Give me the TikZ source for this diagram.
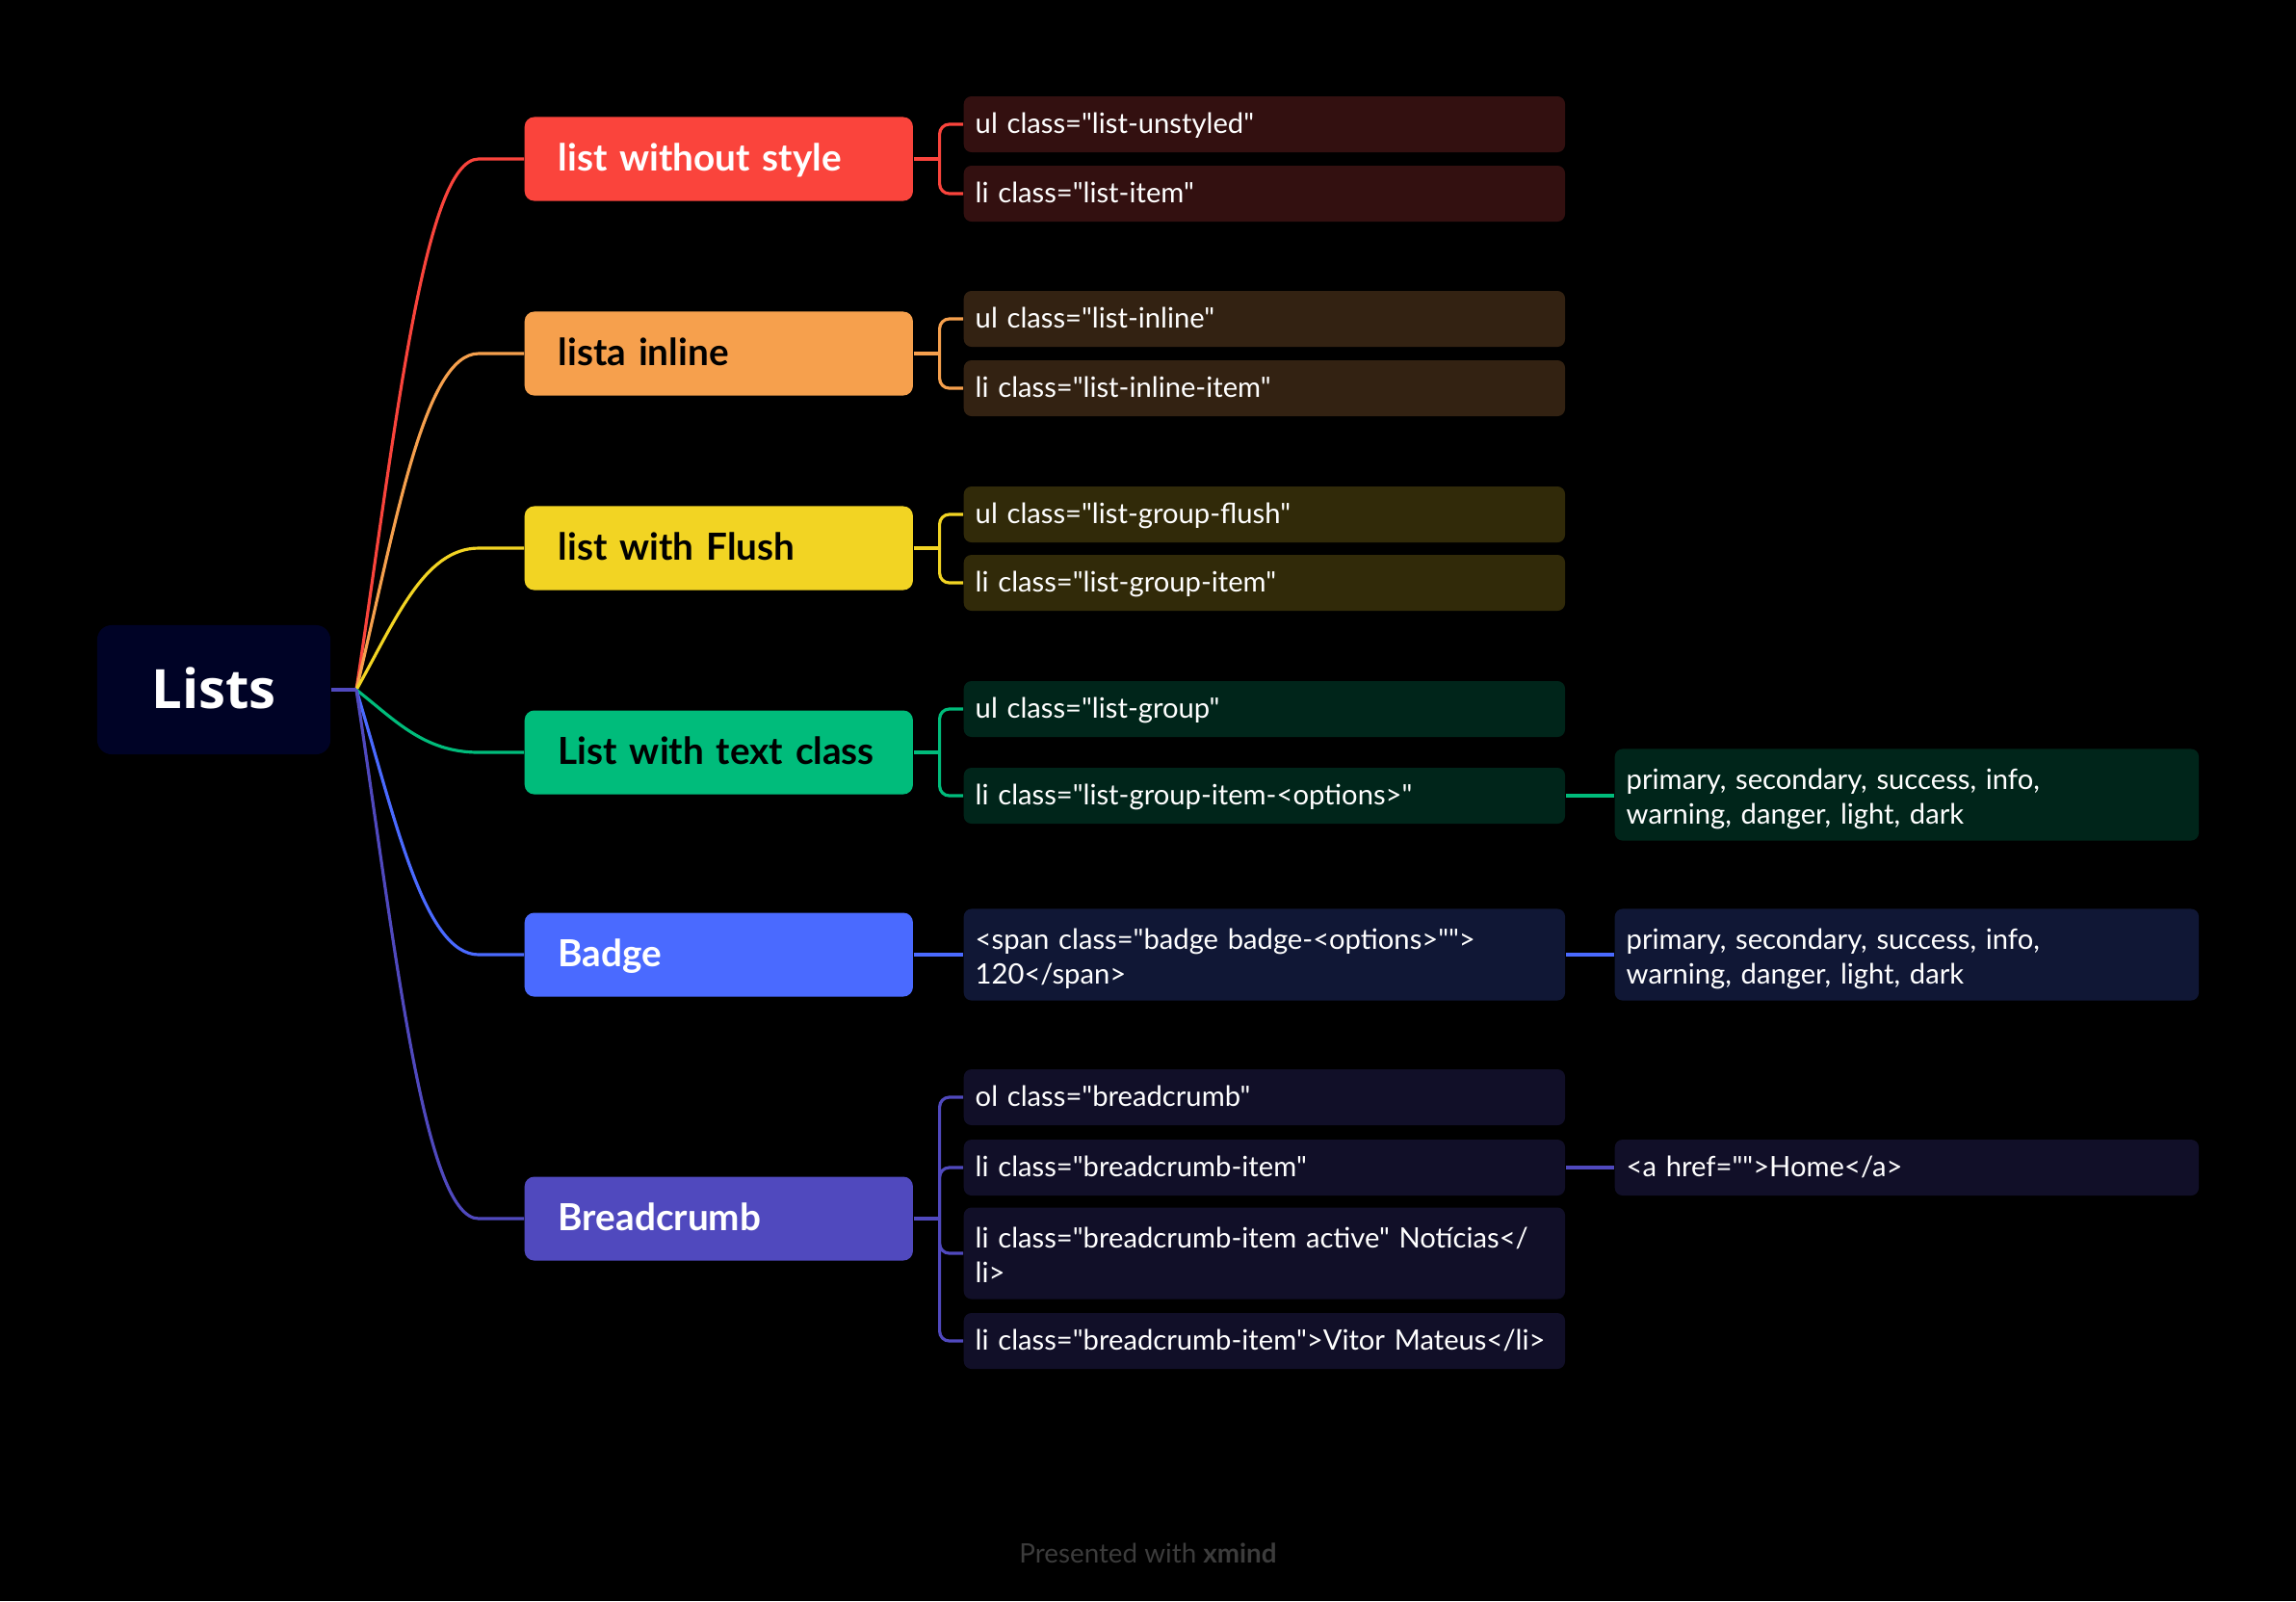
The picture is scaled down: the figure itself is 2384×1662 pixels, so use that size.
\documentclass[tikz,border=0pt]{standalone}
\usepackage{fontspec}
\setmainfont{Lato}[Ligatures=TeXOff]
\newfontfamily\rootfont{Open Sans}
\usetikzlibrary{positioning}

\definecolor{rootfill}{HTML}{000326}
\definecolor{redmain}{HTML}{FA443C}
\definecolor{reddark}{HTML}{331010}
\definecolor{orangemain}{HTML}{F6A04D}
\definecolor{orangedark}{HTML}{332212}
\definecolor{yellowmain}{HTML}{F2D423}
\definecolor{yellowdark}{HTML}{312A09}
\definecolor{greenmain}{HTML}{00BC7B}
\definecolor{greendark}{HTML}{00251A}
\definecolor{bluemain}{HTML}{4A6AFF}
\definecolor{bluedark}{HTML}{101735}
\definecolor{purplemain}{HTML}{5049BE}
\definecolor{purpledark}{HTML}{110F28}
\definecolor{footgray}{HTML}{3C3C3C}

\tikzset{
  rootbox/.style={fill=rootfill, rounded corners=0.15cm, minimum width=2.42cm,
    minimum height=1.34cm, text=white, text height=13pt, text depth=2.2pt,
    font=\rootfont\bfseries\fontsize{16}{19}\selectfont},
  topicbox/.style={fill=#1, rounded corners=0.1cm, anchor=west, minimum height=0.87cm,
    inner xsep=0.35cm, text width=3.33cm, align=left, text height=9pt, text depth=2pt,
    font=\bfseries\fontsize{11}{13}\selectfont},
  subbox/.style={fill=#1, rounded corners=0.08cm, anchor=west, minimum height=0.58cm,
    inner xsep=0.12cm, text width=6cm, align=left, text=white, text height=7pt,
    text depth=1.4pt, font=\fontsize{8.3}{10.2}\selectfont},
  twoline/.style={minimum height=0.95cm, text height=7.5pt, text depth=10.6pt},
  leafbox/.style={subbox=#1, text width=5.82cm},
  link/.style={draw=#1, line width=0.9pt},
}

\begin{document}
\begin{tikzpicture}[x=0.01cm, y=-0.01cm]
  \useasboundingbox[fill=black] (0,0) rectangle (2384,1662);

  % central topic
  \node[rootbox] (lists) at (222,716) {Lists};
  \coordinate (hub) at (370,716);

  % main topics
  \node[topicbox=redmain, text=white] (nostyle) at (544,165) {list without style};
  \node[topicbox=orangemain, text=black] (inline) at (544,367) {lista inline};
  \node[topicbox=yellowmain, text=black] (flush) at (544,569) {list with Flush};
  \node[topicbox=greenmain, text=black] (textclass) at (544,781) {List with text class};
  \node[topicbox=bluemain, text=white] (badge) at (544,991) {Badge};
  \node[topicbox=purplemain, text=white] (crumb) at (544,1265) {Breadcrumb};

  % subtopics
  \node[subbox=reddark] (unstyled) at (1000,129) {ul class="list-unstyled"};
  \node[subbox=reddark] (listitem) at (1000,201) {li class="list-item"};
  \node[subbox=orangedark] (ulinline) at (1000,331) {ul class="list-inline"};
  \node[subbox=orangedark] (liinline) at (1000,403) {li class="list-inline-item"};
  \node[subbox=yellowdark] (ulflush) at (1000,534) {ul class="list-group-flush"};
  \node[subbox=yellowdark] (liflush) at (1000,605) {li class="list-group-item"};
  \node[subbox=greendark] (ulgroup) at (1000,736) {ul class="list-group"};
  \node[subbox=greendark] (ligroup) at (1000,826) {li class="list-group-item-<options>"};
  \node[subbox=bluedark, twoline] (span) at (1000,991)
    {<span class="badge badge-<options>"">\\120</span>};
  \node[subbox=purpledark] (olcrumb) at (1000,1139) {ol class="breadcrumb"};
  \node[subbox=purpledark] (licrumb) at (1000,1212) {li class="breadcrumb-item"};
  \node[subbox=purpledark, twoline] (active) at (1000,1301)
    {li class="breadcrumb-item active" Notícias</\\li>};
  \node[subbox=purpledark] (vitor) at (1000,1392) {li class="breadcrumb-item">Vitor Mateus</li>};

  % details
  \node[leafbox=greendark, twoline] (greenopts) at (1676,825)
    {primary, secondary, success, info,\\warning, danger, light, dark};
  \node[leafbox=bluedark, twoline] (blueopts) at (1676,991)
    {primary, secondary, success, info,\\warning, danger, light, dark};
  \node[leafbox=purpledark] (href) at (1676,1212) {<a href="">Home</a>};

  % branches from the centre
  \foreach \t/\c/\y in {nostyle/redmain/165, inline/orangemain/367, flush/yellowmain/569,
                        textclass/greenmain/781, badge/bluemain/991, crumb/purplemain/1265} {
    \pgfmathsetmacro{\my}{716+0.48*(\y-716)}
    \draw[link=\c] (hub) .. controls (410,\my) and (440,\y) .. (497,\y) -- (\t.west);
  }
  \draw[link=purplemain] (lists.east) -- (hub);

  % brackets to the subtopics
  \draw[link=redmain] (nostyle.east) -- ++(27,0) coordinate (f1);
  \foreach \s in {unstyled, listitem}
    \draw[link=redmain, rounded corners=0.1cm] (f1) |- (\s.west);
  \draw[link=orangemain] (inline.east) -- ++(27,0) coordinate (f2);
  \foreach \s in {ulinline, liinline}
    \draw[link=orangemain, rounded corners=0.1cm] (f2) |- (\s.west);
  \draw[link=yellowmain] (flush.east) -- ++(27,0) coordinate (f3);
  \foreach \s in {ulflush, liflush}
    \draw[link=yellowmain, rounded corners=0.1cm] (f3) |- (\s.west);
  \draw[link=greenmain] (textclass.east) -- ++(27,0) coordinate (f4);
  \foreach \s in {ulgroup, ligroup}
    \draw[link=greenmain, rounded corners=0.1cm] (f4) |- (\s.west);
  \draw[link=bluemain] (badge.east) -- (span.west);
  \draw[link=purplemain] (crumb.east) -- ++(27,0) coordinate (f6);
  \foreach \s in {olcrumb, licrumb, active, vitor}
    \draw[link=purplemain, rounded corners=0.1cm] (f6) |- (\s.west);

  % third level
  \draw[link=greenmain] (ligroup.east) -- (greenopts.west |- ligroup.east);
  \draw[link=bluemain] (span.east) -- (blueopts.west);
  \draw[link=purplemain] (licrumb.east) -- (href.west);

  \node[text=footgray, font=\fontsize{7.9}{9}\selectfont] (credit) at (1192,1612)
    {Presented with \textbf{xmind}};
\end{tikzpicture}
\end{document}
